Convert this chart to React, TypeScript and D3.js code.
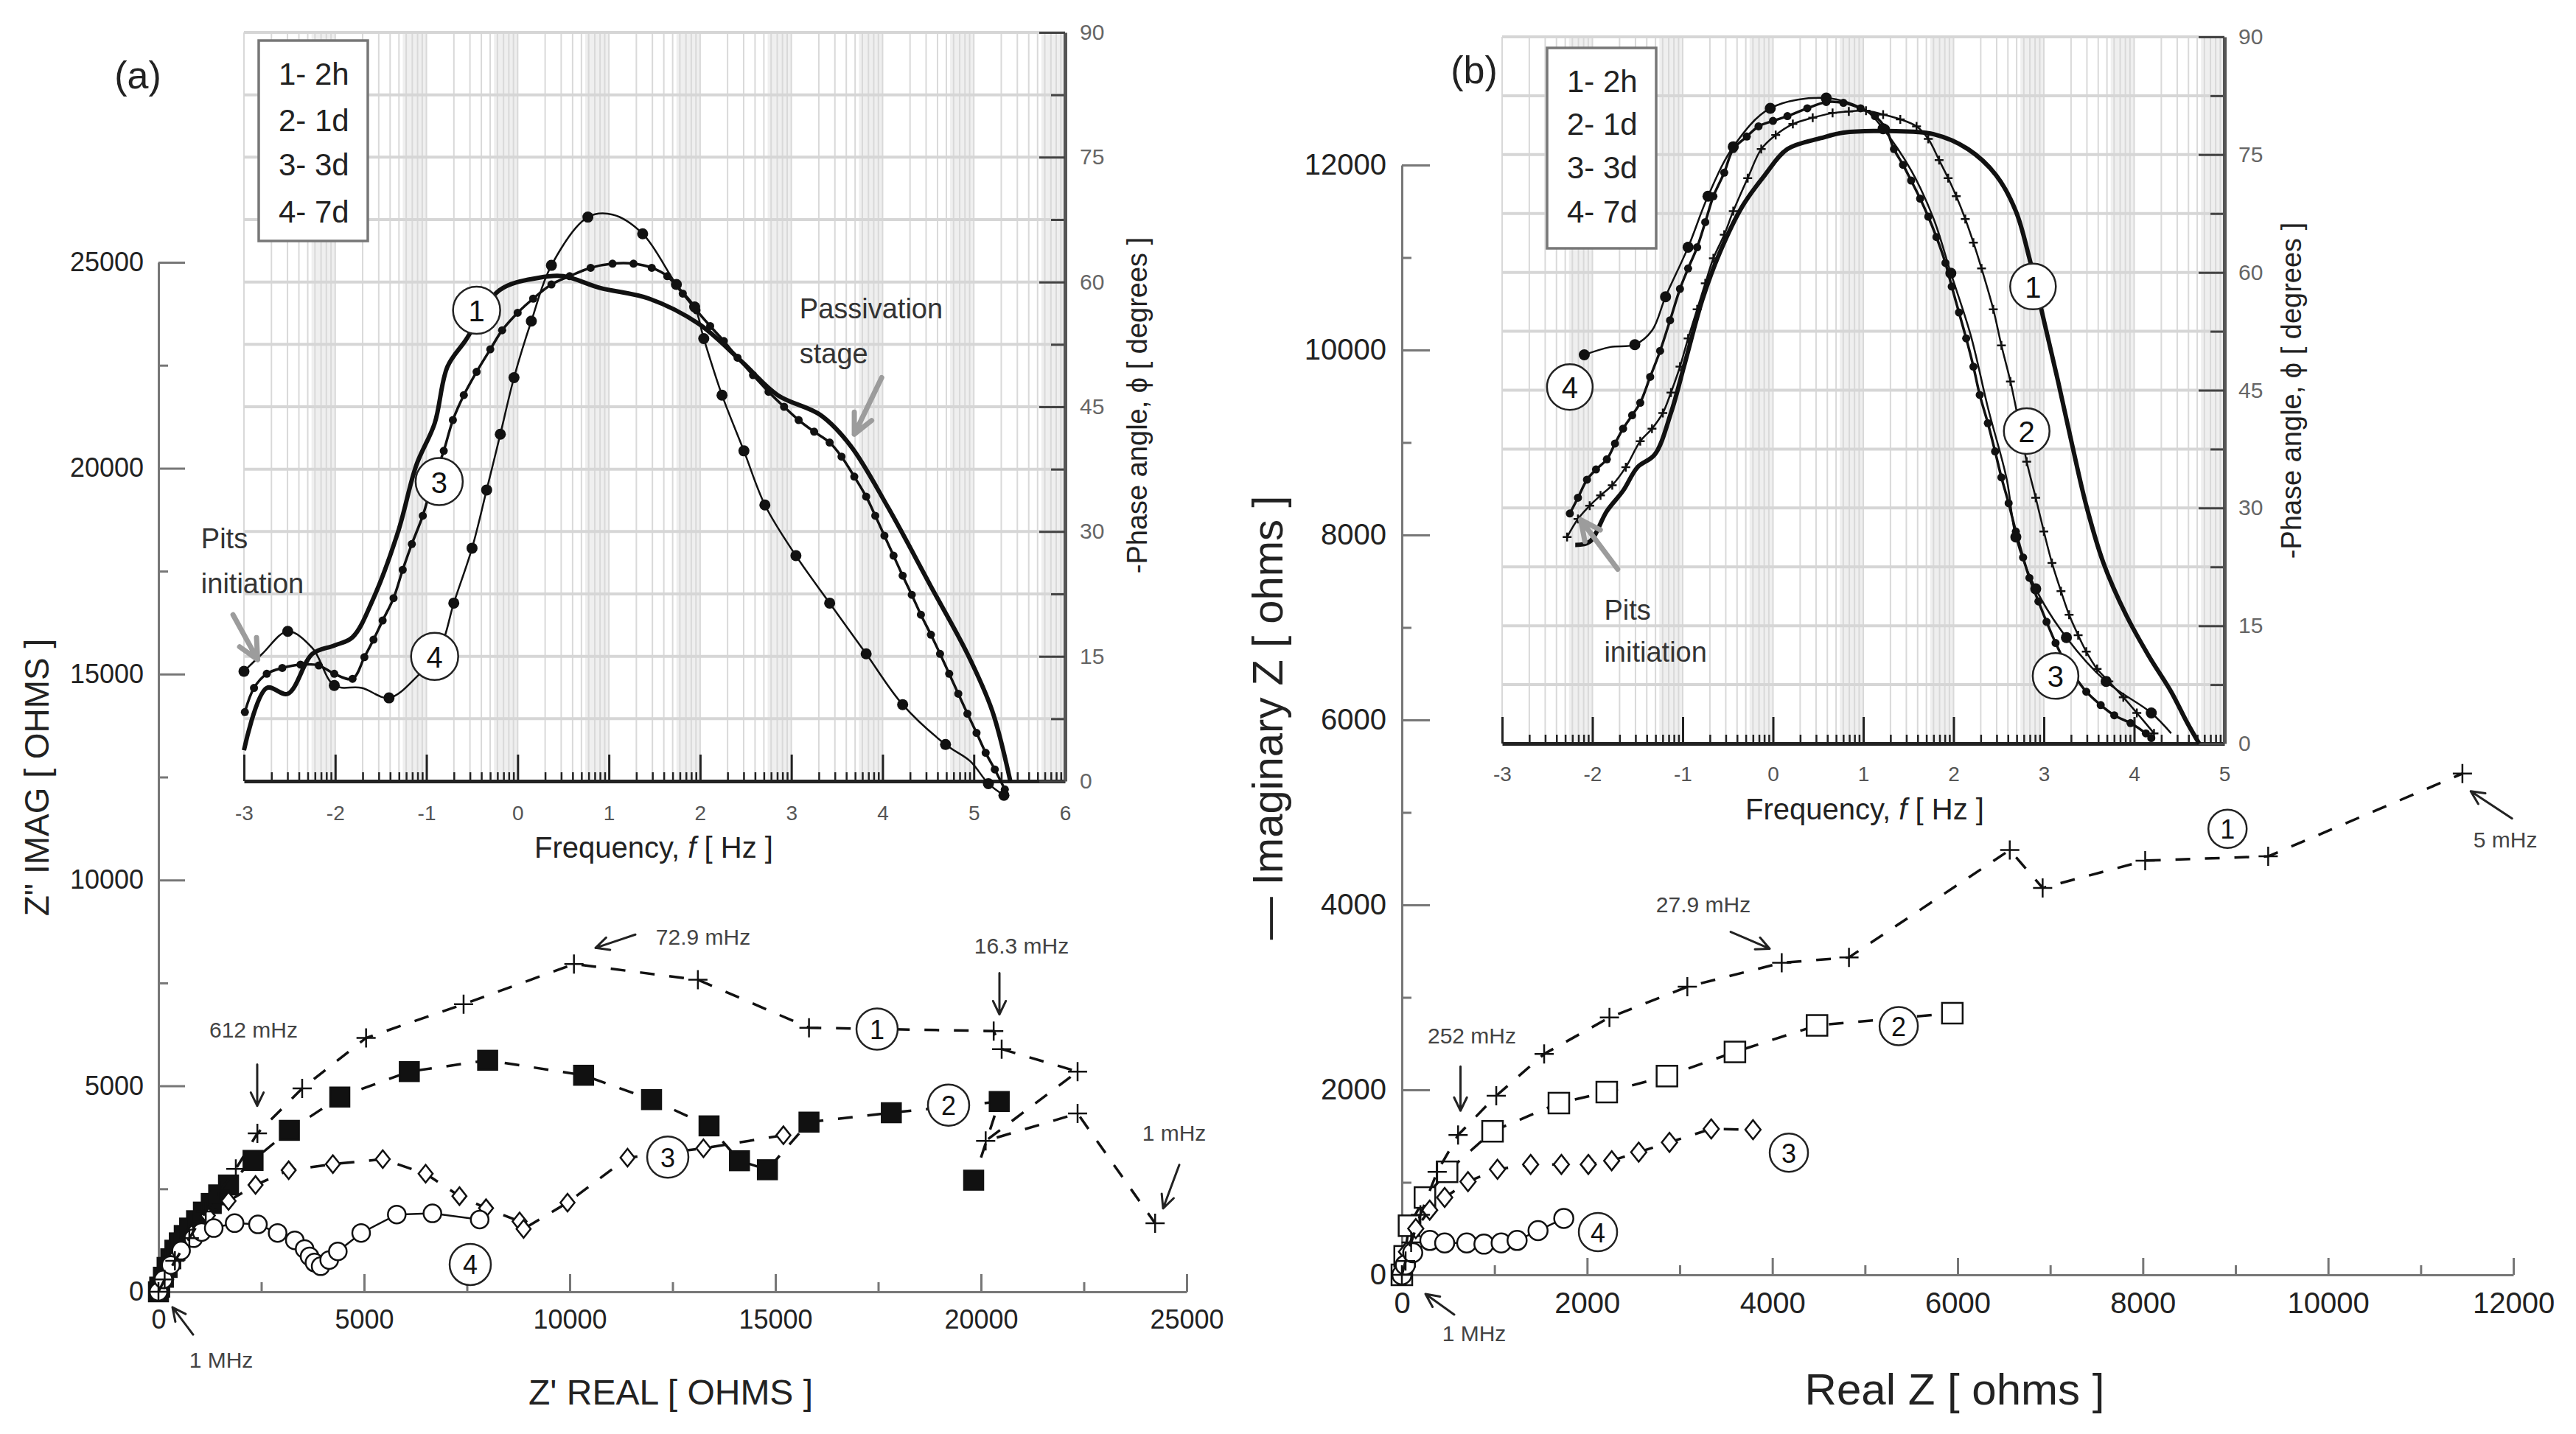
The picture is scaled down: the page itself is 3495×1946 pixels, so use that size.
import React, { useRef, useEffect } from 'react';
import * as d3 from 'd3';

const W = 3495;
const H = 1946;
const FONT = "'Liberation Sans', Arial, Helvetica, sans-serif";

const legendLabels = ['1- 2h', '2- 1d', '3- 3d', '4- 7d'];

// (a) Nyquist data, [Z' real, Z'' imag] in ohms
const nyqA1 = [[0, 0], [150, 300], [400, 750], [750, 1300], [1150, 1950], [1500, 2450], [1881, 2982], [2405, 3848], [3494, 4939], [5048, 6166], [7419, 6985], [10102, 7959], [13116, 7577], [15817, 6412], [20308, 6331], [20502, 5894], [22348, 5348], [20113, 3665], [22348, 4330], [24233, 1663]];
const nyqA2 = [[0, 0], [30, 113], [120, 353], [210, 591], [299, 801], [400, 1009], [507, 1188], [627, 1367], [758, 1547], [926, 1726], [1093, 1935], [1284, 2145], [1464, 2353], [1703, 2593], [2300, 3190], [3183, 3920], [4409, 4729], [6099, 5348], [8004, 5622], [10337, 5258], [11989, 4667], [13387, 4029], [14127, 3183], [14806, 2964], [15817, 4120], [17819, 4348], [20443, 4620], [19821, 2710]];
const nyqA3 = [[0, 0], [60, 150], [200, 450], [450, 900], [800, 1400], [1200, 1850], [1703, 2204], [2360, 2593], [3166, 2951], [4241, 3100], [5454, 3220], [6496, 2867], [7318, 2324], [7965, 2029], [8781, 1710], [8878, 1527], [9946, 2165], [11405, 3256], [13251, 3484], [15195, 3801]];
const nyqA4 = [[0, 0], [120, 300], [300, 650], [550, 1000], [850, 1300], [1050, 1450], [1344, 1547], [1852, 1667], [2419, 1637], [2897, 1428], [3315, 1249], [3554, 1039], [3674, 860], [3793, 711], [3943, 621], [4152, 771], [4361, 980], [4928, 1428], [5794, 1876], [6661, 1905], [7810, 1754]];

// (b) Nyquist data
const nyqB1 = [[0, 0], [40, 150], [100, 350], [200, 650], [381, 1114], [607, 1512], [1019, 1937], [1536, 2388], [2241, 2783], [3082, 3115], [4101, 3374], [4827, 3433], [6563, 4593], [6918, 4184], [8025, 4479], [9353, 4525], [11450, 5420]];
const nyqB2 = [[0, 0], [30, 200], [77, 531], [249, 836], [488, 1114], [979, 1552], [1695, 1857], [2212, 1976], [2862, 2149], [3596, 2410], [4482, 2697], [5943, 2829]];
const nyqB3 = [[0, 0], [50, 250], [150, 500], [300, 700], [462, 836], [714, 1008], [1032, 1141], [1390, 1194], [1722, 1194], [2013, 1194], [2265, 1234], [2557, 1327], [2889, 1433], [3340, 1578], [3791, 1569]];
const nyqB4 = [[0, 0], [37, 106], [117, 239], [302, 372], [462, 345], [700, 345], [886, 332], [1072, 345], [1244, 372], [1470, 478], [1748, 610]];

// (a) phase angle vs log10(f); third value 0 = no marker drawn
const phaseA1 = [[-3, 3.7], [-2.75, 11.2], [-2.52, 10.5], [-2.25, 15.3], [-2.01, 16.3], [-1.81, 17.3], [-1.58, 22], [-1.31, 30], [-1.11, 38], [-0.91, 43], [-0.77, 49.8], [-0.57, 53], [-0.2, 59], [0.23, 60.5], [0.5, 60.7], [0.9, 59.3], [1.44, 58], [1.98, 55], [2.45, 50.5], [2.85, 46.4], [3.32, 44], [3.65, 40.3], [4.06, 32.9], [4.53, 23.4], [4.93, 15.3], [5.2, 8.5], [5.4, 0]];
const phaseA3 = [[-2.99, 8.3], [-2.89, 11.2], [-2.75, 12.9], [-2.58, 13.6], [-2.38, 14.0], [-2.18, 13.9], [-2.01, 12.9], [-1.81, 12.3], [-1.68, 14.9], [-1.58, 17.0], [-1.48, 19.3], [-1.36, 22.0], [-1.26, 25.4], [-1.16, 28.5], [-1.04, 31.9], [-0.94, 35.6], [-0.81, 39.7], [-0.71, 43.4], [-0.59, 46.4], [-0.45, 49.2], [-0.3, 51.9], [-0.17, 54.2], [0, 56.3], [0.17, 58.0], [0.37, 59.7], [0.57, 60.7], [0.8, 61.7], [1.04, 62.2], [1.27, 62.2], [1.47, 61.7], [1.64, 60.7], [1.81, 58.6], [1.96, 56.6], [2.11, 54.7], [2.26, 52.9], [2.41, 50.9], [2.58, 48.8], [2.75, 46.8], [2.92, 45.0], [3.08, 43.4], [3.25, 42.0], [3.42, 40.7], [3.55, 39.0], [3.69, 36.6], [3.82, 34.2], [3.92, 31.9], [4.02, 29.5], [4.12, 27.1], [4.22, 24.7], [4.32, 22.4], [4.42, 20.0], [4.53, 17.6], [4.63, 15.3], [4.73, 12.9], [4.83, 10.5], [4.93, 8.1], [5.03, 5.8], [5.13, 3.4], [5.23, 1.4], [5.34, -1.0]];
const phaseA4 = [[-3, 13.2], [-2.8, 15.3, 0], [-2.52, 18], [-2.25, 16, 0], [-2.01, 11.5], [-1.71, 11.2, 0], [-1.41, 10], [-1.11, 12.5, 0], [-0.85, 16, 0], [-0.7, 21.4], [-0.5, 28], [-0.34, 35], [-0.19, 41.7], [-0.04, 48.5], [0.15, 55.3], [0.37, 62], [0.77, 67.8], [1.04, 68.1, 0], [1.37, 65.8], [1.74, 59.7], [1.94, 57], [2.04, 53.2], [2.24, 46.4], [2.48, 39.7], [2.71, 33.2], [3.05, 27.1], [3.42, 21.4], [3.82, 15.3], [4.22, 9.2], [4.69, 4.4], [4.96, 2.4, 0], [5.16, -0.3], [5.33, -1.7]];

// (b) phase angle vs log10(f)
const phaseB1 = [[-2.19, 25.3], [-2.03, 25.7], [-1.84, 29.6], [-1.66, 32.2], [-1.5, 35.2], [-1.31, 36.8], [-1.13, 42.1], [-0.97, 48.7], [-0.78, 56.6], [-0.59, 62.5], [-0.34, 68.4], [-0.09, 72.4], [0.16, 75.7], [0.53, 77.1], [0.78, 77.8], [1.28, 78], [1.78, 77.6], [2.16, 75.7], [2.47, 72.4], [2.69, 67.8], [2.84, 61.8], [3.0, 53.9], [3.16, 46], [3.31, 38.2], [3.47, 30.3], [3.66, 23], [3.91, 16.4], [4.16, 11.2], [4.41, 6.6], [4.59, 2.6], [4.72, 0]];
const phaseB2 = [[-2.28, 26.3], [-2.16, 28.6], [-2.03, 30.3], [-1.91, 31.6], [-1.78, 32.9], [-1.63, 35.2], [-1.47, 38.5], [-1.34, 40.1], [-1.22, 42.1], [-1.13, 44.7], [-1.03, 48.0], [-0.94, 51.6], [-0.84, 55.3], [-0.75, 58.6], [-0.66, 61.8], [-0.54, 64.8], [-0.44, 67.8], [-0.28, 72.0], [-0.13, 75.7], [0.03, 77.5], [0.22, 78.9], [0.44, 79.7], [0.66, 80.3], [0.84, 80.5], [1.03, 80.6], [1.22, 80.1], [1.41, 79.5], [1.59, 78.6], [1.72, 77.0], [1.84, 74.3], [1.94, 72.0], [2.03, 69.7], [2.13, 66.8], [2.22, 63.8], [2.31, 60.5], [2.44, 55.3], [2.53, 50.7], [2.63, 46.1], [2.72, 41.1], [2.81, 35.9], [2.91, 31.3], [3.0, 27.0], [3.09, 23.0], [3.19, 19.4], [3.28, 16.4], [3.38, 13.8], [3.47, 11.7], [3.59, 9.5], [3.72, 7.9], [3.88, 5.9], [4.03, 3.9], [4.22, 1.3]];
const phaseB3 = [[-2.25, 29.3], [-2.16, 31.3], [-2.06, 33.6], [-1.96, 34.9], [-1.84, 36.2], [-1.75, 38.2], [-1.66, 40.1], [-1.56, 41.8], [-1.47, 43.4], [-1.36, 46.7], [-1.25, 50.0], [-1.14, 53.9], [-1.03, 57.9], [-0.94, 60.5], [-0.84, 63.2], [-0.75, 66.4], [-0.66, 69.7], [-0.54, 72.7], [-0.44, 75.7], [-0.29, 77.3], [-0.16, 78.6], [0, 79.3], [0.16, 79.9], [0.38, 80.9], [0.59, 81.7], [0.78, 81.6], [0.97, 80.9], [1.13, 79.9], [1.25, 78.3], [1.34, 75.7], [1.44, 73.7], [1.53, 71.7], [1.63, 69.4], [1.72, 67.1], [1.81, 64.5], [1.91, 61.2], [1.98, 58.2], [2.06, 54.9], [2.14, 51.6], [2.22, 48.0], [2.29, 44.4], [2.38, 40.8], [2.46, 37.2], [2.53, 33.9], [2.61, 30.6], [2.69, 27.0], [2.77, 23.7], [2.84, 21.1], [2.94, 18.1], [3.03, 15.5], [3.13, 12.8], [3.23, 10.5], [3.34, 8.6], [3.47, 6.6], [3.63, 4.9], [3.78, 3.6], [3.96, 2.6], [4.13, 1.3], [4.19, 0.7]];
const phaseB4 = [[-2.09, 49.5], [-1.8, 50.5, 0], [-1.53, 50.8], [-1.34, 52.6, 0], [-1.19, 56.9], [-0.94, 63.2], [-0.72, 69.7], [-0.44, 76], [-0.03, 80.9], [0.59, 82.2], [1.03, 80.6, 0], [1.22, 78.3], [1.53, 73, 0], [1.78, 66.8, 0], [1.97, 59.9], [2.19, 52, 0], [2.38, 42.8, 0], [2.59, 33.6, 0], [2.69, 26.3], [2.91, 19.7], [3.25, 13.5], [3.69, 7.9], [4.19, 3.9], [4.41, 1.3, 0]];

// numbered curve tags [text, x, y] in data units
const tagsNyqA = [['1', 17473, 6380], ['2', 19211, 4534], ['3', 12384, 3271], ['4', 7581, 663]];
const tagsNyqB = [['1', 8914, 4823], ['2', 5364, 2690], ['3', 4178, 1321], ['4', 2117, 462]];
const tagsPhaseA = [['1', -0.45, 56.6], ['3', -0.86, 36], ['4', -0.91, 15]];
const tagsPhaseB = [['1', 2.88, 58.2], ['2', 2.81, 39.8], ['3', 3.13, 8.6], ['4', -2.25, 45.4]];

// frequency call-outs on the Nyquist plots (data units)
const notesA = [
  { text: '72.9 mHz', at: [13244, 8620], from: [11595, 8674], to: [10627, 8351] },
  { text: '16.3 mHz', at: [20986, 8405], from: [20448, 7742], to: [20448, 6738] },
  { text: '612 mHz', at: [2312, 6362], from: [2401, 5520], to: [2401, 4516] },
  { text: '1 mHz', at: [24695, 3853], from: [24821, 3082], to: [24427, 2025] },
  { text: '1 MHz', at: [1523, -1649], from: [842, -1039], to: [341, -376] },
];
const notesB = [
  { text: '252 mHz', at: [756, 2587], from: [633, 2252], to: [633, 1775] },
  { text: '27.9 mHz', at: [3255, 4003], from: [3550, 3709], to: [3971, 3526] },
  { text: '5 mHz', at: [11914, 4703], from: [11986, 4934], to: [11540, 5229] },
  { text: '1 MHz', at: [780, -637], from: [565, -430], to: [255, -207] },
];
const phaseNotesA = [
  { lines: ['Pits', 'initiation'], at: [-3.47, 29.1], step: 5.4, from: [-3.12, 20.0], to: [-2.85, 14.6] },
  { lines: ['Passivation', 'stage'], at: [3.09, 56.8], step: 5.4, from: [3.99, 48.5], to: [3.69, 41.7] },
];
const phaseNotesB = [
  { lines: ['Pits', 'initiation'], at: [-1.87, 17.0], step: 5.4, from: [-1.72, 22.2], to: [-2.13, 28.5] },
];

const addText = (g, x, y, str, size, fill = '#222', anchor = 'start', rotate = 0) => {
  const t = g.append('text')
    .attr('x', x).attr('y', y)
    .attr('font-size', size)
    .attr('font-family', FONT)
    .attr('fill', fill)
    .attr('text-anchor', anchor)
    .attr('dominant-baseline', 'central')
    .text(str);
  if (rotate) t.attr('transform', `rotate(${rotate},${x},${y})`);
  return t;
};

const arrow = (g, x1, y1, x2, y2, color, w, head) => {
  const a = Math.atan2(y2 - y1, x2 - x1);
  const p = d3.path();
  p.moveTo(x1, y1);
  p.lineTo(x2, y2);
  p.moveTo(x2 - head * Math.cos(a - 0.45), y2 - head * Math.sin(a - 0.45));
  p.lineTo(x2, y2);
  p.lineTo(x2 - head * Math.cos(a + 0.45), y2 - head * Math.sin(a + 0.45));
  g.append('path').attr('d', p.toString())
    .attr('fill', 'none').attr('stroke', color).attr('stroke-width', w)
    .attr('stroke-linecap', 'round').attr('stroke-linejoin', 'round');
};

const tag = (g, cx, cy, r, str, fs) => {
  g.append('circle').attr('cx', cx).attr('cy', cy).attr('r', r)
    .attr('fill', '#fff').attr('stroke', '#222').attr('stroke-width', 2.5);
  addText(g, cx, cy + 1, str, fs, '#111', 'middle');
};

const styleAxis = (sel, color, width, size, textColor) => {
  sel.attr('font-family', FONT).attr('font-size', size);
  sel.select('.domain').attr('stroke', color).attr('stroke-width', width);
  sel.selectAll('.tick line').attr('stroke', color).attr('stroke-width', width);
  sel.selectAll('.tick text').attr('fill', textColor);
};

const marker = (g, cx, cy, kind, s) => {
  if (kind === 'plus') {
    g.append('path').attr('d', `M${cx - s},${cy}H${cx + s}M${cx},${cy - s}V${cy + s}`)
      .attr('stroke', '#111').attr('stroke-width', 2.5);
  } else if (kind === 'fsquare' || kind === 'square') {
    g.append('rect').attr('x', cx - s).attr('y', cy - s).attr('width', 2 * s).attr('height', 2 * s)
      .attr('fill', kind === 'fsquare' ? '#111' : '#fff').attr('stroke', '#111').attr('stroke-width', 2.5);
  } else if (kind === 'diamond') {
    g.append('path').attr('d', `M${cx},${cy - s}L${cx + s * 0.8},${cy}L${cx},${cy + s}L${cx - s * 0.8},${cy}Z`)
      .attr('fill', '#fff').attr('stroke', '#111').attr('stroke-width', 2.5);
  } else if (kind === 'circle') {
    g.append('circle').attr('cx', cx).attr('cy', cy).attr('r', s)
      .attr('fill', '#fff').attr('stroke', '#111').attr('stroke-width', 2.5);
  } else if (kind === 'dot') {
    g.append('circle').attr('cx', cx).attr('cy', cy).attr('r', s).attr('fill', '#111');
  }
};

const App = () => {
  const svgRef = useRef(null);

  useEffect(() => {
    const svg = d3.select(svgRef.current);
    svg.selectAll('*').remove();
    svg.append('rect').attr('width', W).attr('height', H).attr('fill', '#fff');

    // scales
    const xA = d3.scaleLinear().domain([0, 25000]).range([215, 1610]);
    const yA = d3.scaleLinear().domain([0, 25000]).range([1753, 356]);
    const xB = d3.scaleLinear().domain([0, 12000]).range([1902, 3410]);
    const yB = d3.scaleLinear().domain([0, 12000]).range([1730, 224]);
    const fxA = d3.scaleLinear().domain([-3, 6]).range([331, 1445]);
    const fyA = d3.scaleLinear().domain([0, 90]).range([1060, 44]);
    const fxB = d3.scaleLinear().domain([-3, 5]).range([2038, 3018]);
    const fyB = d3.scaleLinear().domain([0, 90]).range([1009, 50]);

    // ---------- Nyquist axes
    const nyqAxes = (x, y, major, minor, majX, majY, size, padX, padY) => {
      const g = svg.append('g');
      const top = x.domain()[1];
      const xg = g.append('g').attr('transform', `translate(0,${y(0)})`);
      xg.append('g')
        .call(d3.axisBottom(x).tickValues(d3.range(minor, top, major)).tickSize(-13).tickFormat(() => ''))
        .call(s => s.select('.domain').remove())
        .call(s => styleAxis(s, '#777', 3, size, '#222'));
      xg.append('g')
        .call(d3.axisBottom(x).tickValues(d3.range(0, top + 1, major)).tickSizeInner(-majX).tickSizeOuter(0).tickPadding(padY).tickFormat(d => String(d)))
        .call(s => styleAxis(s, '#777', 3, size, '#222'));
      const yg = g.append('g').attr('transform', `translate(${x(0)},0)`);
      yg.append('g')
        .call(d3.axisLeft(y).tickValues(d3.range(minor, top, major)).tickSize(-13).tickFormat(() => ''))
        .call(s => s.select('.domain').remove())
        .call(s => styleAxis(s, '#777', 3, size, '#222'));
      yg.append('g')
        .call(d3.axisLeft(y).tickValues(d3.range(0, top + 1, major)).tickSizeInner(-majY).tickSizeOuter(0).tickPadding(padX).tickFormat(d => String(d)))
        .call(s => styleAxis(s, '#777', 3, size, '#222'));
      return g;
    };
    nyqAxes(xA, yA, 5000, 2500, 24, 36, 36, 20, 24);
    nyqAxes(xB, yB, 2000, 1000, 23, 38, 40, 21, 24);

    addText(svg, 50, 1055, 'Z" IMAG [ OHMS ]', 46, '#222', 'middle', -90);
    addText(svg, 910, 1889, "Z' REAL [ OHMS ]", 48, '#222', 'middle');
    addText(svg, 1719, 974, '\u2014 Imaginary Z [ ohms ]', 58, '#222', 'middle', -90);
    addText(svg, 2652, 1885, 'Real Z [ ohms ]', 60, '#222', 'middle');

    // ---------- phase insets
    const drawPhase = (fx, fy, padB, padR) => {
      const g = svg.append('g');
      const fMax = fx.domain()[1];
      const decades = d3.range(-3, fMax);
      g.append('rect').attr('x', fx(-3)).attr('y', fy(90)).attr('width', fx(fMax) - fx(-3))
        .attr('height', fy(0) - fy(90)).attr('fill', '#fff');
      decades.forEach(n => {
        const b0 = fx(n + Math.log10(5.5));
        g.append('rect').attr('x', b0).attr('y', fy(90)).attr('width', fx(n + 1) - b0)
          .attr('height', fy(0) - fy(90)).attr('fill', '#efefef');
      });
      const vGrid = decades.flatMap(n => d3.range(1, 10).map(k => n + Math.log10(k)));
      g.selectAll('line.vg').data(vGrid).join('line')
        .attr('x1', d => fx(d)).attr('x2', d => fx(d))
        .attr('y1', fy(90)).attr('y2', fy(0))
        .attr('stroke', '#d9d9d9').attr('stroke-width', 2);
      g.selectAll('line.hg').data(d3.range(7.5, 90.1, 7.5)).join('line')
        .attr('x1', fx(-3)).attr('x2', fx(fMax))
        .attr('y1', d => fy(d)).attr('y2', d => fy(d))
        .attr('stroke', '#d6d6d6').attr('stroke-width', 4);

      const bx = g.append('g').attr('transform', `translate(0,${fy(0)})`);
      const minorF = decades.flatMap(n => d3.range(2, 10).map(k => n + Math.log10(k)));
      bx.append('g')
        .call(d3.axisBottom(fx).tickValues(minorF).tickSize(-12).tickFormat(() => ''))
        .call(s => s.select('.domain').remove())
        .call(s => styleAxis(s, '#222', 2.5, 28, '#555'));
      bx.append('g')
        .call(d3.axisBottom(fx).tickValues(d3.range(-3, fMax + 1)).tickSizeInner(-36).tickSizeOuter(0).tickPadding(padB).tickFormat(d => String(d)))
        .call(s => styleAxis(s, '#222', 3, 28, '#555'))
        .call(s => s.select('.domain').attr('stroke-width', 5));

      const ry = g.append('g').attr('transform', `translate(${fx(fMax)},0)`);
      ry.append('g')
        .call(d3.axisRight(fy).tickValues(d3.range(7.5, 90, 15)).tickSize(-19).tickFormat(() => ''))
        .call(s => s.select('.domain').remove())
        .call(s => styleAxis(s, '#444', 3, 30, '#555'));
      ry.append('g')
        .call(d3.axisRight(fy).tickValues(d3.range(0, 91, 15)).tickSizeInner(-35).tickSizeOuter(0).tickPadding(padR).tickFormat(d => String(d)))
        .call(s => styleAxis(s, '#444', 3, 30, '#666'))
        .call(s => s.select('.domain').attr('stroke', '#555').attr('stroke-width', 5));
      return g;
    };

    const phaseCurve = (g, fx, fy, pts, width, kind, s) => {
      const line = d3.line().x(d => fx(d[0])).y(d => fy(d[1])).curve(d3.curveCatmullRom.alpha(0.5));
      g.append('path').attr('d', line(pts)).attr('fill', 'none')
        .attr('stroke', '#111').attr('stroke-width', width).attr('stroke-linejoin', 'round');
      if (kind) pts.filter(d => d[2] !== 0).forEach(d => marker(g, fx(d[0]), fy(d[1]), kind, s));
    };

    const freqLabel = (cx, cy) => {
      const t = svg.append('text').attr('x', cx).attr('y', cy)
        .attr('text-anchor', 'middle').attr('dominant-baseline', 'central')
        .attr('font-size', 40).attr('font-family', FONT).attr('fill', '#222');
      t.append('tspan').text('Frequency, ');
      t.append('tspan').attr('font-style', 'italic').text('f');
      t.append('tspan').text(' [ Hz ]');
    };

    const legend = (x0, y0, rows) => {
      svg.append('rect').attr('x', x0).attr('y', y0).attr('width', 148).attr('height', 272)
        .attr('fill', '#fff').attr('stroke', '#777').attr('stroke-width', 3.5);
      legendLabels.forEach((l, i) => addText(svg, x0 + 27, rows[i], l, 42, '#222'));
    };

    const phaseNotes = (fx, fy, notes) => {
      notes.forEach(n => {
        n.lines.forEach((l, i) => addText(svg, fx(n.at[0]), fy(n.at[1] - i * n.step), l, 38, '#333'));
        arrow(svg, fx(n.from[0]), fy(n.from[1]), fx(n.to[0]), fy(n.to[1]), '#9c9c9c', 7, 30);
      });
    };

    // inset (a)
    const pa = drawPhase(fxA, fyA, 33, 20);
    phaseCurve(pa, fxA, fyA, phaseA1, 6);
    phaseCurve(pa, fxA, fyA, phaseA3, 3.5, 'dot', 5.5);
    phaseCurve(pa, fxA, fyA, phaseA4, 2.5, 'dot', 7.5);
    tagsPhaseA.forEach(([t, f, p]) => tag(pa, fxA(f), fyA(p), 32, t, 40));
    legend(351, 55, [100, 163, 223, 287]);
    freqLabel(887, 1150);
    addText(svg, 1543, 550, '-Phase angle, \u03d5 [ degrees ]', 38, '#222', 'middle', -90);
    phaseNotes(fxA, fyA, phaseNotesA);

    // inset (b)
    const pb = drawPhase(fxB, fyB, 31, 19);
    phaseCurve(pb, fxB, fyB, phaseB1, 6);
    phaseCurve(pb, fxB, fyB, phaseB2, 2.5, 'plus', 6);
    phaseCurve(pb, fxB, fyB, phaseB3, 3.5, 'dot', 5.5);
    phaseCurve(pb, fxB, fyB, phaseB4, 2.5, 'dot', 7.5);
    tagsPhaseB.forEach(([t, f, p]) => tag(pb, fxB(f), fyB(p), 31, t, 40));
    legend(2099, 65, [110, 168, 227, 287]);
    freqLabel(2530, 1098);
    addText(svg, 3109, 530, '-Phase angle, \u03d5 [ degrees ]', 38, '#222', 'middle', -90);
    phaseNotes(fxB, fyB, phaseNotesB);

    addText(svg, 187, 102, '(a)', 52, '#222', 'middle');
    addText(svg, 2000, 95, '(b)', 52, '#222', 'middle');

    // ---------- Nyquist series
    const nyqSeries = (x, y, pts, kind, s, dashed) => {
      const g = svg.append('g');
      const line = d3.line().x(d => x(d[0])).y(d => y(d[1]));
      g.append('path').attr('d', line(pts)).attr('fill', 'none')
        .attr('stroke', '#111').attr('stroke-width', dashed ? 3.5 : 2.5)
        .attr('stroke-dasharray', dashed ? '20 20' : null);
      return () => pts.forEach(d => marker(g, x(d[0]), y(d[1]), kind, s));
    };

    const a2 = nyqSeries(xA, yA, nyqA2, 'fsquare', 13, true);
    const a3 = nyqSeries(xA, yA, nyqA3, 'diamond', 12, true);
    const a4 = nyqSeries(xA, yA, nyqA4, 'circle', 12, false);
    const a1 = nyqSeries(xA, yA, nyqA1, 'plus', 13, true);
    a2(); a3(); a4(); a1();

    const b2 = nyqSeries(xB, yB, nyqB2, 'square', 14, true);
    const b3 = nyqSeries(xB, yB, nyqB3, 'diamond', 13, true);
    const b4 = nyqSeries(xB, yB, nyqB4, 'circle', 13, false);
    const b1 = nyqSeries(xB, yB, nyqB1, 'plus', 13, true);
    b2(); b3(); b4(); b1();

    tagsNyqA.forEach(([t, a, b]) => tag(svg, xA(a), yA(b), 28, t, 36));
    tagsNyqB.forEach(([t, a, b]) => tag(svg, xB(a), yB(b), 26, t, 36));

    const notes = (x, y, list) => list.forEach(n => {
      addText(svg, x(n.at[0]), y(n.at[1]), n.text, 30, '#444', 'middle');
      arrow(svg, x(n.from[0]), y(n.from[1]), x(n.to[0]), y(n.to[1]), '#222', 3, 20);
    });
    notes(xA, yA, notesA);
    notes(xB, yB, notesB);
  }, []);

  return (
    <svg ref={svgRef} width={W} height={H}
      style={{ position: 'absolute', left: 0, top: 0, display: 'block' }} />
  );
};

export default App;
